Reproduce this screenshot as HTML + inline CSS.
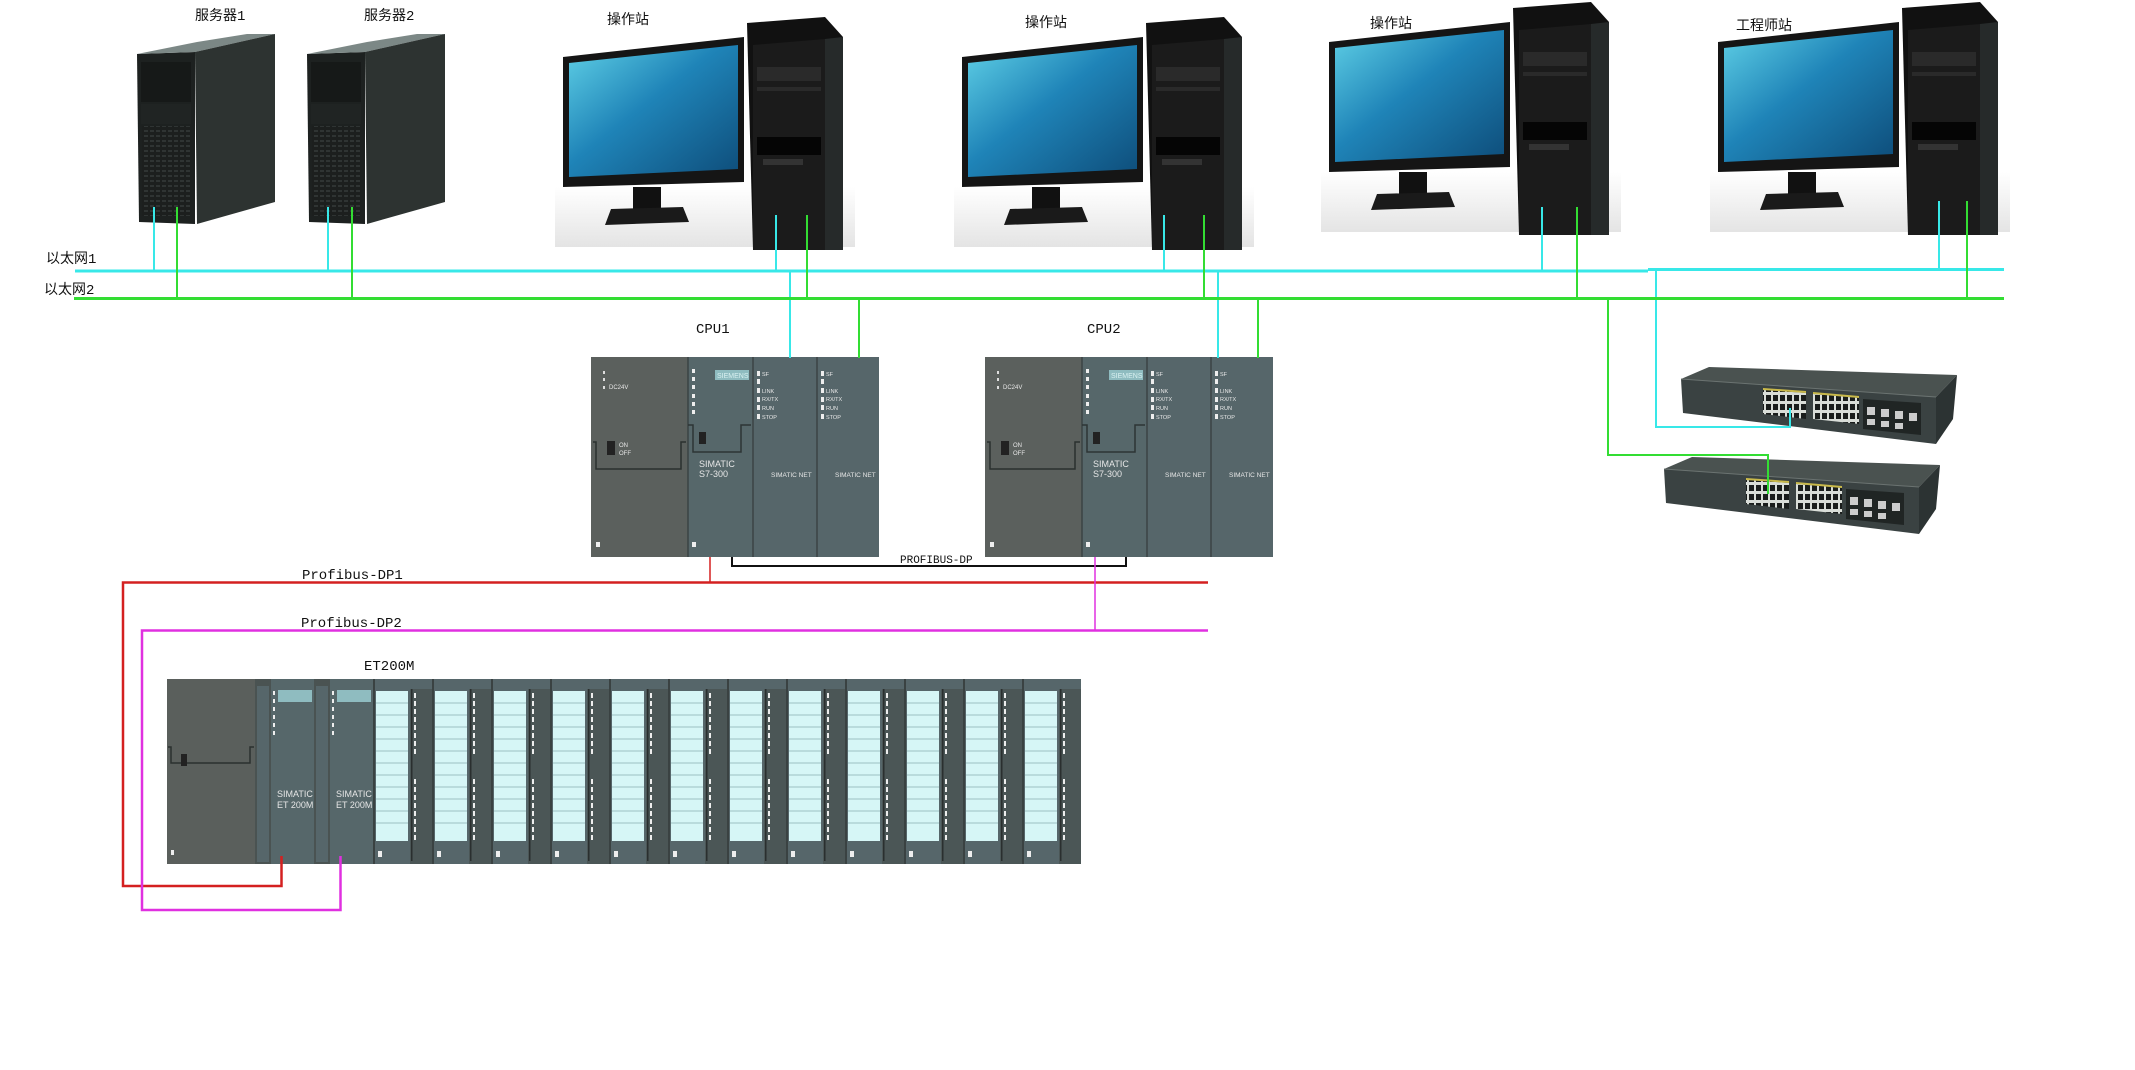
<!DOCTYPE html>
<html><head><meta charset="utf-8">
<style>
html,body{margin:0;padding:0;background:#fff;}
svg{display:block;}
text{font-family:"Liberation Sans","Noto Sans CJK SC",sans-serif;}
.lbl{font-family:"Liberation Mono","Noto Sans CJK SC",monospace;font-size:14px;fill:#111;}
.sm{font-size:6px;fill:#e8e8e8;}
</style></head><body>
<svg width="2135" height="1070" viewBox="0 0 2135 1070" xmlns="http://www.w3.org/2000/svg">
<defs>
<linearGradient id="scr" x1="0" y1="0" x2="1" y2="1">
<stop offset="0" stop-color="#5fd0e6"/><stop offset="0.45" stop-color="#1f84b8"/><stop offset="1" stop-color="#0e4d7a"/>
</linearGradient>
<linearGradient id="base" x1="0" y1="0" x2="0" y2="1">
<stop offset="0" stop-color="#fff"/><stop offset="1" stop-color="#e4e4e4"/>
</linearGradient>
<pattern id="grille" width="6" height="5" patternUnits="userSpaceOnUse">
<rect width="6" height="5" fill="#1c1f1e"/><rect x="1" y="1" width="4" height="2" fill="#2f3433"/>
</pattern>
<pattern id="ports" width="7" height="9" patternUnits="userSpaceOnUse">
<rect width="7" height="9" fill="#d9ddd8"/><rect x="1" y="1" width="5" height="6" fill="#1a1d1c"/>
</pattern>
<g id="pc">
<rect x="-8" y="150" width="300" height="60" fill="url(#base)"/>
<polygon points="0,20 181,0 181,145 0,150" fill="#151515"/>
<polygon points="6,26 175,8 175,132 6,140" fill="url(#scr)"/>
<rect x="70" y="150" width="28" height="22" fill="#111"/>
<polygon points="48,172 120,170 126,185 42,188" fill="#1a1a1a"/>
<polygon points="184,-14 262,-20 280,0 280,213 190,213" fill="#111"/>
<polygon points="190,8 262,2 262,213 190,213" fill="#1b1b1b"/>
<rect x="194" y="30" width="64" height="14" fill="#2a2a2a"/>
<rect x="194" y="50" width="64" height="4" fill="#2a2a2a"/>
<rect x="194" y="100" width="64" height="18" fill="#050505"/>
<rect x="200" y="122" width="40" height="6" fill="#333"/>
<polygon points="262,2 280,0 280,213 262,213" fill="#262a2a"/>
</g>
<g id="srv">
<polygon points="0,20 58,18 58,190 2,188" fill="#1d2120"/>
<polygon points="0,20 58,18 138,0 110,0 60,8" fill="#7c8886"/>
<polygon points="58,18 138,0 138,168 60,190" fill="#2d3331"/>
<rect x="4" y="28" width="50" height="40" fill="#161918"/>
<rect x="4" y="70" width="50" height="20" fill="#202423"/>
<rect x="5" y="92" width="48" height="90" fill="url(#grille)"/>
</g>
<g id="rack">
<rect x="0" y="0" width="97" height="200" fill="#5b605d"/>
<rect x="97" y="0" width="65" height="200" fill="#56676a"/>
<rect x="162" y="0" width="64" height="200" fill="#56666a"/>
<rect x="226" y="0" width="62" height="200" fill="#56666a"/>
<line x1="97" y1="0" x2="97" y2="200" stroke="#3b4444" stroke-width="1.5"/>
<line x1="162" y1="0" x2="162" y2="200" stroke="#3b4444" stroke-width="1.5"/>
<line x1="226" y1="0" x2="226" y2="200" stroke="#3b4444" stroke-width="1.5"/>
<polyline points="2,85 5,85 5,112 90,112 90,85 95,85" fill="none" stroke="#2b302e" stroke-width="1.5"/>
<rect x="16" y="84" width="8" height="14" fill="#222"/>
<text x="28" y="90" class="sm">ON</text><text x="28" y="98" class="sm">OFF</text>
<rect x="12" y="14" width="2" height="3" fill="#ddd"/><rect x="12" y="21" width="2" height="3" fill="#ddd"/><rect x="12" y="29" width="2" height="3" fill="#ddd"/>
<text x="18" y="32" class="sm">DC24V</text>
<rect x="124" y="13" width="34" height="10" fill="#8fbcc0"/>
<text x="126" y="21" style="font-size:7px;fill:#d8f0f0">SIEMENS</text>
<g fill="#eee"><rect x="101" y="12" width="3" height="4"/><rect x="101" y="20" width="3" height="4"/><rect x="101" y="28" width="3" height="4"/><rect x="101" y="37" width="3" height="4"/><rect x="101" y="45" width="3" height="4"/><rect x="101" y="53" width="3" height="4"/></g>
<polyline points="97,68 102,68 102,95 150,95 150,68 160,68" fill="none" stroke="#2d3535" stroke-width="1.5"/>
<rect x="108" y="75" width="7" height="12" fill="#222"/>
<text x="108" y="110" style="font-size:9px;fill:#e6e6e6">SIMATIC</text>
<text x="108" y="120" style="font-size:9px;fill:#e6e6e6">S7-300</text>
<g fill="#eee"><rect x="166" y="14" width="3" height="5"/><rect x="166" y="22" width="3" height="5"/><rect x="166" y="31" width="3" height="5"/><rect x="166" y="40" width="3" height="5"/><rect x="166" y="48" width="3" height="5"/><rect x="166" y="57" width="3" height="5"/>
<rect x="230" y="14" width="3" height="5"/><rect x="230" y="22" width="3" height="5"/><rect x="230" y="31" width="3" height="5"/><rect x="230" y="40" width="3" height="5"/><rect x="230" y="48" width="3" height="5"/><rect x="230" y="57" width="3" height="5"/></g>
<g class="sm" style="font-size:5.5px"><text x="171" y="19">SF</text><text x="171" y="36">LINK</text><text x="171" y="44">RX/TX</text><text x="171" y="53">RUN</text><text x="171" y="62">STOP</text>
<text x="235" y="19">SF</text><text x="235" y="36">LINK</text><text x="235" y="44">RX/TX</text><text x="235" y="53">RUN</text><text x="235" y="62">STOP</text></g>
<text x="180" y="120" style="font-size:6.5px;fill:#e6e6e6">SIMATIC NET</text>
<text x="244" y="120" style="font-size:6.5px;fill:#e6e6e6">SIMATIC NET</text>
<rect x="5" y="185" width="4" height="5" fill="#eee"/><rect x="101" y="185" width="4" height="5" fill="#eee"/>
</g>
<g id="io">
<rect x="0" y="0" width="59" height="185" fill="#56666a"/>
<rect x="0" y="0" width="2" height="185" fill="#3a4242"/>
<rect x="3" y="12" width="32" height="150" fill="#d6f6f6"/>
<g stroke="#9cc0c2" stroke-width="1">
<line x1="3" y1="24" x2="35" y2="24"/><line x1="3" y1="36" x2="35" y2="36"/><line x1="3" y1="48" x2="35" y2="48"/><line x1="3" y1="60" x2="35" y2="60"/><line x1="3" y1="72" x2="35" y2="72"/><line x1="3" y1="84" x2="35" y2="84"/><line x1="3" y1="96" x2="35" y2="96"/><line x1="3" y1="108" x2="35" y2="108"/><line x1="3" y1="120" x2="35" y2="120"/><line x1="3" y1="132" x2="35" y2="132"/><line x1="3" y1="144" x2="35" y2="144"/></g>
<rect x="37" y="10" width="22" height="175" fill="#4b5656"/>
<rect x="38" y="10" width="1.5" height="172" fill="#2a2f2f"/>
<g fill="#eee"><rect x="41" y="14" width="2" height="5"/><rect x="41" y="22" width="2" height="5"/><rect x="41" y="30" width="2" height="5"/><rect x="41" y="38" width="2" height="5"/><rect x="41" y="46" width="2" height="5"/><rect x="41" y="54" width="2" height="5"/><rect x="41" y="62" width="2" height="5"/><rect x="41" y="70" width="2" height="5"/>
<rect x="41" y="100" width="2" height="5"/><rect x="41" y="108" width="2" height="5"/><rect x="41" y="116" width="2" height="5"/><rect x="41" y="124" width="2" height="5"/><rect x="41" y="132" width="2" height="5"/><rect x="41" y="140" width="2" height="5"/><rect x="41" y="148" width="2" height="5"/><rect x="41" y="156" width="2" height="5"/></g>
<rect x="5" y="172" width="4" height="6" fill="#eee"/>
</g>
<g id="sw">
<polygon points="0,12 28,0 276,8 255,30" fill="#4a5250"/>
<polygon points="0,12 255,30 255,77 2,46" fill="#3a4242"/>
<polygon points="255,30 276,8 272,52 255,77" fill="#2c3333"/>
<line x1="0" y1="12" x2="255" y2="30" stroke="#6b7371" stroke-width="1"/>
<polygon points="82,23 125,26 125,52 82,47" fill="url(#ports)"/>
<polygon points="132,27 178,31 178,57 132,52" fill="url(#ports)"/>
<polygon points="182,32 240,36 240,68 182,62" fill="#202524"/>
<g fill="#c9b94a"><polygon points="82,21 125,24 125,26 82,23"/><polygon points="132,25 178,29 178,31 132,27"/></g>
<g fill="#ccc"><rect x="186" y="40" width="8" height="8"/><rect x="200" y="42" width="8" height="8"/><rect x="214" y="44" width="8" height="8"/><rect x="228" y="46" width="8" height="8"/>
<rect x="186" y="52" width="8" height="6"/><rect x="200" y="54" width="8" height="6"/><rect x="214" y="56" width="8" height="6"/></g>
</g>
</defs>

<use href="#srv" x="137" y="34"/>
<use href="#srv" x="307" y="34"/>
<use href="#pc" x="563" y="37"/>
<use href="#pc" x="962" y="37"/>
<use href="#pc" x="1329" y="22"/>
<use href="#pc" x="1718" y="22"/>

<text x="195" y="20" class="lbl">服务器1</text>
<text x="364" y="20" class="lbl">服务器2</text>
<text x="607" y="24" class="lbl">操作站</text>
<text x="1025" y="27" class="lbl">操作站</text>
<text x="1370" y="28" class="lbl">操作站</text>
<text x="1736" y="30" class="lbl">工程师站</text>
<text x="46" y="263" class="lbl">以太网1</text>
<text x="44" y="294" class="lbl">以太网2</text>
<text x="696" y="333" class="lbl">CPU1</text>
<text x="1087" y="333" class="lbl">CPU2</text>
<text x="302" y="579" class="lbl">Profibus-DP1</text>
<text x="301" y="627" class="lbl">Profibus-DP2</text>
<text x="364" y="670" class="lbl">ET200M</text>
<text x="900" y="563" class="lbl" style="font-size:11px">PROFIBUS-DP</text>

<use href="#rack" x="591" y="357"/>
<use href="#rack" x="985" y="357"/>

<rect x="167" y="679" width="914" height="185" fill="#555c5a"/>
<rect x="167" y="679" width="88" height="185" fill="#5a5f5c"/>
<polyline points="168,747 171,747 171,763 250,763 250,747 254,747" fill="none" stroke="#2b302e" stroke-width="1.5"/>
<rect x="181" y="754" width="6" height="12" fill="#222"/>
<rect x="255" y="679" width="16" height="185" fill="#4a5352"/><rect x="257" y="686" width="12" height="176" fill="#56666a"/>
<rect x="271" y="679" width="44" height="185" fill="#56676a"/>
<rect x="314" y="679" width="16" height="185" fill="#4a5352"/><rect x="316" y="686" width="12" height="176" fill="#56666a"/>
<rect x="330" y="679" width="43" height="185" fill="#56676a"/>
<rect x="278" y="690" width="34" height="12" fill="#8fbcc0"/><rect x="337" y="690" width="34" height="12" fill="#8fbcc0"/>
<g fill="#eee"><rect x="273" y="691" width="2" height="4"/><rect x="273" y="699" width="2" height="4"/><rect x="273" y="707" width="2" height="4"/><rect x="273" y="715" width="2" height="4"/><rect x="273" y="723" width="2" height="4"/><rect x="273" y="731" width="2" height="4"/>
<rect x="332" y="691" width="2" height="4"/><rect x="332" y="699" width="2" height="4"/><rect x="332" y="707" width="2" height="4"/><rect x="332" y="715" width="2" height="4"/><rect x="332" y="723" width="2" height="4"/><rect x="332" y="731" width="2" height="4"/>
<rect x="171" y="850" width="3" height="5"/></g>
<text x="277" y="797" style="font-size:9px;fill:#e6e6e6">SIMATIC</text>
<text x="277" y="808" style="font-size:9px;fill:#e6e6e6">ET 200M</text>
<text x="336" y="797" style="font-size:9px;fill:#e6e6e6">SIMATIC</text>
<text x="336" y="808" style="font-size:9px;fill:#e6e6e6">ET 200M</text>
<use href="#io" x="373" y="679"/><use href="#io" x="432" y="679"/><use href="#io" x="491" y="679"/><use href="#io" x="550" y="679"/>
<use href="#io" x="609" y="679"/><use href="#io" x="668" y="679"/><use href="#io" x="727" y="679"/><use href="#io" x="786" y="679"/>
<use href="#io" x="845" y="679"/><use href="#io" x="904" y="679"/><use href="#io" x="963" y="679"/><use href="#io" x="1022" y="679"/>

<use href="#sw" x="1681" y="367"/>
<use href="#sw" x="1664" y="457"/>

<g fill="none" stroke-width="2">
<g stroke="#38e8e8">
<line x1="75" y1="271" x2="1648" y2="271" stroke-width="3"/>
<line x1="1648" y1="269.5" x2="2004" y2="269.5" stroke-width="3"/>
<line x1="154" y1="207" x2="154" y2="271"/><line x1="328" y1="207" x2="328" y2="271"/>
<line x1="776" y1="215" x2="776" y2="271"/><line x1="1164" y1="215" x2="1164" y2="271"/>
<line x1="1542" y1="207" x2="1542" y2="271"/><line x1="1939" y1="201" x2="1939" y2="271"/>
<line x1="790" y1="271" x2="790" y2="358"/><line x1="1218" y1="271" x2="1218" y2="358"/>
<polyline points="1656,270 1656,427 1790,427 1790,408"/>
</g>
<g stroke="#33dd33">
<line x1="74" y1="298.5" x2="2004" y2="298.5" stroke-width="3"/>
<line x1="177" y1="207" x2="177" y2="298"/><line x1="352" y1="207" x2="352" y2="298"/>
<line x1="807" y1="215" x2="807" y2="298"/><line x1="1204" y1="215" x2="1204" y2="298"/>
<line x1="1577" y1="207" x2="1577" y2="298"/><line x1="1967" y1="201" x2="1967" y2="298"/>
<line x1="859" y1="298" x2="859" y2="358"/><line x1="1258" y1="298" x2="1258" y2="358"/>
<polyline points="1608,298 1608,455 1768,455 1768,494"/>
</g>
<polyline points="732,557 732,566 1126,566 1126,557" stroke="#111"/>
<line x1="710" y1="557" x2="710" y2="583" stroke="#d42020" stroke-width="1.5"/>
<polyline points="1208,582.5 123,582.5 123,886 281.5,886 281.5,856" stroke="#d42020" stroke-width="2.5"/>
<line x1="1095" y1="557" x2="1095" y2="631" stroke="#e030e0" stroke-width="1.5"/>
<polyline points="1208,630.5 142,630.5 142,910 340.5,910 340.5,856" stroke="#e030e0" stroke-width="2.5"/>
</g>
</svg>
</body></html>
